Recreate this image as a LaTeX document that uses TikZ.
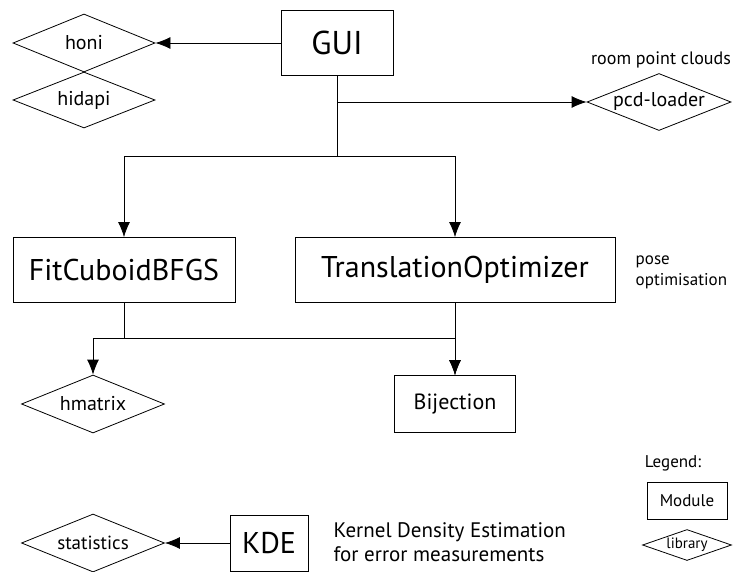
\documentclass[tikz,border=0pt]{standalone}
\usepackage{fontspec}
\setmainfont{PT Sans}
\usetikzlibrary{shapes.geometric,arrows.meta}

\begin{document}
\begin{tikzpicture}[x=1pt, y=-1pt, line width=0.8pt,
    module/.style={draw, rectangle, inner sep=0pt},
    big/.style={font=\fontsize{30}{33}\selectfont},
    lib/.style={draw, diamond, aspect=2.5, inner sep=0pt, font=\fontsize{20}{22}\selectfont},
    note/.style={font=\fontsize{17}{21}\selectfont, align=left},
    arr/.style={-{Latex[length=15pt, width=12pt]}}]

     \useasboundingbox (0, 0) rectangle (738, 572);

     \node (gui) at (337, 43) [module, font=\fontsize{33}{36}\selectfont, minimum width=112pt, minimum height=65pt] {GUI};
     \node (honi) at (84, 43) [lib, minimum width=142pt, minimum height=58pt] {honi};
     \node (hidapi) at (84, 100) [lib, minimum width=142pt, minimum height=56pt] {hidapi};
     \node (pcd) at (659, 102) [lib, minimum width=144pt, minimum height=57pt] {pcd-loader};
     \node (clouds) at (661, 60) [note, font=\fontsize{18}{21}\selectfont] {room point clouds};

     \node (fit) at (124, 270) [module, big, minimum width=222pt, minimum height=65pt] {FitCuboidBFGS};
     \node (trans) at (455, 270) [module, big, minimum width=320pt, minimum height=65pt] {TranslationOptimizer};
     \node (pose) at (632, 272) [note, anchor=west] {pose\\optimisation};

     \node (hmat) at (93, 404) [lib, minimum width=143pt, minimum height=58pt] {hmatrix};
     \node (bij) at (455, 404) [module, font=\fontsize{22}{24}\selectfont, minimum width=121pt, minimum height=57pt] {Bijection};

     \node (stats) at (93, 543) [lib, font=\fontsize{19}{22}\selectfont, minimum width=143pt, minimum height=58pt] {statistics};
     \node (kde) at (269, 543) [module, big, minimum width=78pt, minimum height=56pt] {KDE};
     \node (kdenote) at (330, 542) [note, anchor=west, font=\fontsize{21}{24}\selectfont] {Kernel Density Estimation\\for error measurements};

     \node (legend) at (673, 463) [note] {Legend:};
     \node (legmod) at (687, 501) [module, note, minimum width=80pt, minimum height=37pt] {Module};
     \node (leglib) at (687, 545) [lib, aspect=2.9, inner sep=-2pt, font=\fontsize{15}{17}\selectfont, minimum width=89pt, minimum height=31pt] {library};

     \coordinate (split) at (337, 156);
     \coordinate (join) at (124, 338);

     \draw [arr] (gui.west) -- (honi.east);
     \draw [arr] (gui.south) |- (pcd.west);
     \draw [arr] (gui.south) -- (split) -| (fit.north);
     \draw [arr] (split) -| (trans.north);

     \draw (fit.south) -- (join);
     \draw [arr] (join) -| (hmat.north);
     \draw [arr] (join) -| (bij.north);
     \draw [arr] (trans.south) -- (bij.north);

     \draw [arr] (kde.west) -- (stats.east);

\end{tikzpicture}
\end{document}
